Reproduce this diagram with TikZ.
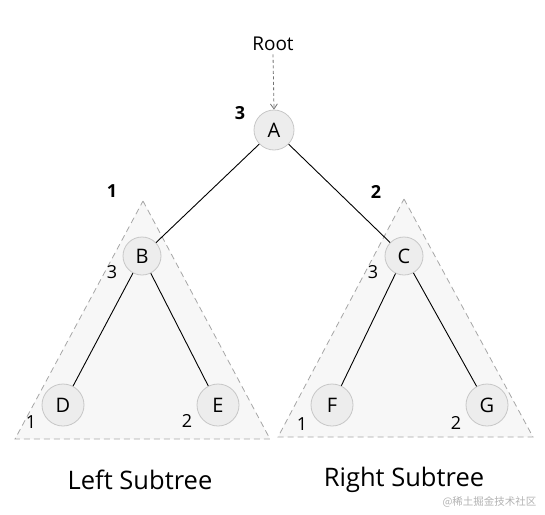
\documentclass[tikz,border=0pt]{standalone}
\usepackage{fontspec}
\setmainfont{Open Sans}
\newfontfamily\cjk{Noto Sans CJK SC}
\usetikzlibrary{arrows.meta}
\begin{document}
\begin{tikzpicture}[x=1pt,y=-1pt,
  treenode/.style={circle,draw=black!22,fill=black!7,line width=0.8pt,minimum size=40pt,inner sep=0pt,font=\fontsize{20}{20}\selectfont},
  subtri/.style={draw=black!35,fill=black!3,dashed,dash pattern=on 6pt off 4pt,line width=0.8pt},
  edge/.style={draw=black,line width=0.9pt},
  cnt/.style={font=\fontsize{18}{18}\selectfont},
  bcnt/.style={font=\bfseries\fontsize{18}{18}\selectfont},
  captext/.style={font=\fontsize{25.5}{25.5}\selectfont}]
\useasboundingbox (0,0) rectangle (545,514);
% subtrees
\path[subtri] (143,201) -- (270,439) -- (15,439) -- cycle;
\path[subtri] (404,199) -- (533,437) -- (278,437) -- cycle;
% nodes
\node[treenode] (A) at (274,130) {A};
\node[treenode,minimum size=38pt] (B) at (142,256) {B};
\node[treenode,minimum size=38pt] (C) at (404,256) {C};
\node[treenode,minimum size=42pt] (D) at (63,405) {D};
\node[treenode,minimum size=42pt] (E) at (218,405) {E};
\node[treenode,minimum size=42pt] (F) at (332,405) {F};
\node[treenode,minimum size=42pt] (G) at (487,405) {G};
% edges
\draw[edge] (A) -- (B);
\draw[edge] (A) -- (C);
\draw[edge] (B) -- (D);
\draw[edge] (B) -- (E);
\draw[edge] (C) -- (F);
\draw[edge] (C) -- (G);
% root
\node[font=\fontsize{19}{19}\selectfont] (root) at (273,44) {Root};
\draw[black!55,dashed,dash pattern=on 3pt off 2.5pt,line width=0.8pt,-{Straight Barb[length=5pt,width=7pt]}] (root.south) -- (A.north);
% counts
\node[bcnt] (nA) at (240,113) {3};
\node[bcnt] (nL) at (112,191) {1};
\node[bcnt] (nR) at (376,192) {2};
\node[cnt] (nB) at (112,272) {3};
\node[cnt] (nC) at (373,272) {3};
\node[cnt] (nD) at (31,422) {1};
\node[cnt] (nE) at (187,421) {2};
\node[cnt] (nF) at (302,424) {1};
\node[cnt] (nG) at (456,423) {2};
% captions
\node[captext] (lt) at (140,480) {Left Subtree};
\node[captext] (rt) at (404,480) {Right Subtree};
\node[text=black!30,font=\cjk\fontsize{10.5}{10.5}\selectfont,anchor=east] (wm) at (540,502) {@稀土掘金技术社区};
\end{tikzpicture}
\end{document}
